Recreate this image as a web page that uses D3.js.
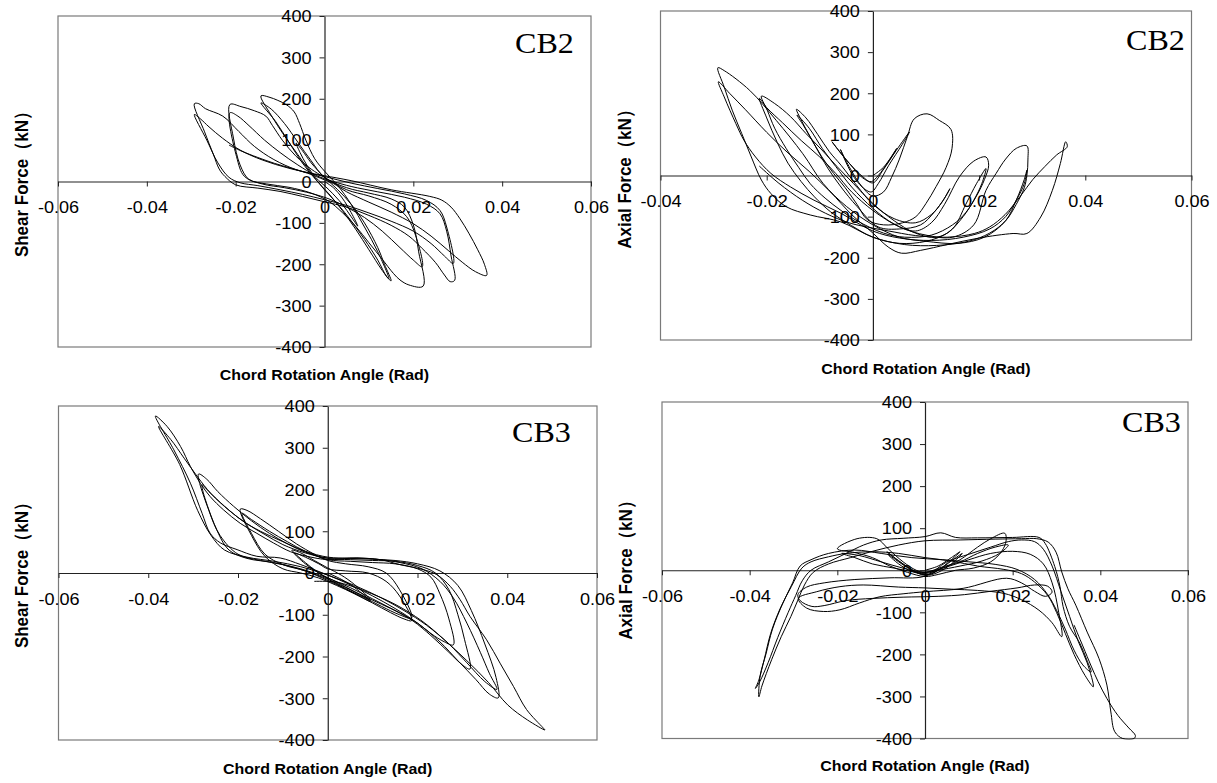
<!DOCTYPE html>
<html><head><meta charset="utf-8">
<script src="https://cdn.jsdelivr.net/npm/d3@7"></script>
<style>body{margin:0;background:#fff}svg{display:block}</style>
</head><body>
<svg id="c" width="1217" height="783"></svg>
<script>
const xTicksWide = [-0.06,-0.04,-0.02,0,0.02,0.04,0.06];
const xTicksNarrow = [-0.04,-0.02,0,0.02,0.04,0.06];
const yTicks = [-400,-300,-200,-100,0,100,200,300,400];
const specimenLabels = ["CB2","CB2","CB3","CB3"];
const xTitle = "Chord Rotation Angle (Rad)";
const yTitles = ["Shear Force（kN）","Axial Force（kN）","Shear Force（kN）","Axial Force（kN）"];

// CB2 shear force vs chord rotation [rad, kN]
const cb2Shear = [
[0,0],[0.002,-15],[0.004,-40],[0.006,-75],[0.0075,-108],
[0.006,-85],[0.004,-55],[0.001,-20],[-0.002,10],[-0.004,40],[-0.0055,70],[-0.0064,93],
[-0.005,75],[-0.003,45],[0,10],
[0.003,-20],[0.006,-55],[0.009,-100],[0.012,-160],[0.0135,-200],[0.015,-240],
[0.014,-230],[0.012,-190],[0.009,-140],[0.006,-95],[0.003,-55],[0,-20],[-0.003,20],[-0.006,65],[-0.009,110],[-0.012,160],[-0.0143,207],
[-0.0125,204],[-0.0105,196],[-0.0085,185],[-0.0068,168],[-0.0056,140],[-0.0042,100],[-0.0022,55],[0,25],[0.003,-10],
[0.006,-55],[0.009,-110],[0.012,-170],[0.0145,-235],
[0.013,-215],[0.01,-165],[0.007,-115],[0.004,-70],[0.001,-30],[-0.002,5],[-0.005,45],[-0.008,95],[-0.011,145],[-0.0143,190],
[-0.012,175],[-0.009,140],[-0.006,95],[-0.003,50],[0,10],
[0.005,-15],[0.01,-28],[0.015,-42],[0.018,-62],[0.02,-105],[0.0212,-170],[0.0222,-253],
[0.019,-250],[0.017,-238],[0.0155,-222],[0.013,-188],[0.01,-148],[0.007,-108],[0.004,-75],[0.001,-48],[-0.003,-28],[-0.008,-14],[-0.013,-6],[-0.017,5],[-0.019,40],[-0.0205,105],[-0.0213,186],
[-0.0188,181],[-0.0158,171],[-0.0132,158],[-0.0117,135],[-0.0095,100],[-0.0065,62],[-0.003,30],[0,10],
[0.005,-20],[0.01,-35],[0.015,-55],[0.0185,-85],[0.0205,-130],[0.022,-206],
[0.02,-190],[0.017,-160],[0.013,-120],[0.009,-87],[0.005,-62],[0.001,-42],[-0.004,-26],[-0.009,-15],[-0.014,-6],[-0.018,12],[-0.0198,60],[-0.0213,166],
[-0.0195,158],[-0.017,135],[-0.0135,100],[-0.01,70],[-0.006,40],[-0.002,15],[0.002,0],
[0.006,-12],[0.012,-25],[0.018,-38],[0.023,-55],[0.026,-78],[0.0275,-120],[0.0285,-180],[0.0293,-239],
[0.0283,-242],[0.027,-226],[0.025,-196],[0.022,-162],[0.019,-132],[0.015,-106],[0.01,-82],[0.005,-62],[0,-49],[-0.005,-36],[-0.01,-24],[-0.015,-16],[-0.02,-8],[-0.0224,12],[-0.0237,30],[-0.025,65],[-0.027,120],[-0.0293,188],
[-0.0283,188],[-0.0268,176],[-0.0229,158],[-0.0193,121],[-0.0158,85],[-0.0114,53],[-0.0062,28],[0,12],
[0.006,-4],[0.012,-17],[0.018,-30],[0.023,-46],[0.026,-70],[0.0275,-110],[0.029,-198],
[0.027,-180],[0.024,-150],[0.02,-120],[0.015,-96],[0.01,-76],[0.005,-58],[0,-44],[-0.005,-31],[-0.01,-20],[-0.015,-10],[-0.019,-3],[-0.0215,10],[-0.024,45],[-0.0265,100],[-0.0293,162],
[-0.028,152],[-0.026,132],[-0.023,105],[-0.019,76],[-0.014,52],[-0.008,32],[-0.003,20],[0,14],
[0.006,2],[0.015,-20],[0.0237,-36],[0.0264,-45],[0.0285,-62],[0.0305,-90],[0.0325,-125],[0.0345,-165],[0.036,-200],[0.0365,-227],
[0.034,-218],[0.031,-195],[0.028,-168],[0.024,-132],[0.02,-102],[0.015,-74],[0.01,-50],[0.005,-25],[0.002,-5],[0,4],[-0.0038,20],[-0.0075,32],[-0.0113,44],[-0.015,58],[-0.0188,74],[-0.0215,88]
];

// CB2 axial force vs chord rotation [rad, kN]
const cb2Axial = [
[0,0],[0.002,20],[0.0045,66],[0.003,35],[0.001,0],[-0.0003,-15],[-0.002,-5],[-0.0044,29],[-0.0061,55],[-0.0077,82],
[-0.0065,62],[-0.0044,29],[-0.0019,-3],[0,-18],[0.0019,13],[0.0044,61],[0.0069,106],
[0.0055,75],[0.003,25],[0.001,-20],[-0.0003,-40],[-0.002,-28],[-0.004,5],[-0.0061,63],
[-0.0045,22],[-0.002,-28],[0,-50],
[0.002,-40],[0.0035,-5],[0.005,40],[0.0065,95],[0.0078,138],[0.0102,150],[0.0125,134],[0.0147,112],[0.0149,66],[0.0138,20],[0.0119,-27],[0.01,-68],[0.0081,-100],[0.0056,-115],[0.002,-120],[-0.001,-108],
[-0.003,-70],[-0.0052,-30],[-0.0074,5],[-0.0096,45],[-0.0118,94],[-0.0135,135],[-0.0144,161],
[-0.0126,140],[-0.0104,100],[-0.0082,58],[-0.006,25],[-0.003,-25],[0,-70],[0.004,-105],
[0.008,-115],[0.011,-95],[0.013,-65],[0.0145,-32],[0.0135,-55],[0.0115,-90],[0.009,-120],[0.005,-130],[0.001,-125],
[-0.003,-75],[-0.006,-28],[-0.0085,18],[-0.011,75],[-0.013,120],[-0.0143,147],[-0.012,115],[-0.0095,65],[-0.007,22],[-0.004,-28],[0,-80],[0.004,-118],
[0.008,-135],[0.011,-115],[0.0135,-70],[0.0163,-3],[0.019,35],[0.0213,45],[0.0218,25],[0.021,-10],[0.0195,-50],[0.0175,-90],[0.015,-120],[0.011,-145],[0.006,-150],[0.002,-140],
[-0.003,-110],[-0.006,-85],[-0.009,-55],[-0.0118,-20],[-0.014,20],[-0.0163,65],[-0.0185,115],[-0.0199,159],[-0.021,193],
[-0.0185,175],[-0.0155,143],[-0.0126,102],[-0.0096,62],[-0.0067,21],[-0.0037,-19],[0,-68],[0.004,-110],[0.008,-140],
[0.012,-150],[0.015,-130],[0.0175,-70],[0.0195,-20],[0.0213,17],[0.0205,-20],[0.019,-60],[0.017,-100],[0.014,-140],[0.01,-160],[0.005,-165],[0,-150],
[-0.004,-122],[-0.008,-88],[-0.011,-52],[-0.0135,-15],[-0.016,30],[-0.018,80],[-0.02,140],[-0.0214,188],
[-0.02,165],[-0.017,128],[-0.0135,85],[-0.01,45],[-0.007,5],[-0.004,-40],[0,-85],[0.005,-125],
[0.01,-145],[0.015,-150],[0.019,-120],[0.0213,-36],[0.0232,5],[0.025,40],[0.027,66],[0.029,72],[0.0292,40],[0.029,0],[0.0285,-30],[0.027,-70],[0.025,-110],[0.022,-140],[0.018,-160],[0.012,-170],[0.006,-168],[0,-150],
[-0.006,-113],[-0.0118,-96],[-0.0163,-76],[-0.0192,-44],[-0.021,-11],[-0.0229,45],[-0.0247,102],[-0.0265,159],[-0.028,215],[-0.0292,262],
[-0.028,255],[-0.0232,207],[-0.0182,134],[-0.0132,53],[-0.0094,-19],[-0.005,-75],[0,-120],[0.005,-150],
[0.01,-160],[0.016,-165],[0.021,-150],[0.025,-110],[0.027,-60],[0.0285,-10],[0.029,13],[0.0285,-20],[0.027,-60],[0.025,-100],[0.022,-130],[0.017,-150],[0.011,-158],[0.005,-152],[0,-135],
[-0.006,-92],[-0.0111,-60],[-0.0155,-28],[-0.0192,5],[-0.0221,45],[-0.0243,86],[-0.0258,126],[-0.028,191],[-0.0291,228],
[-0.027,200],[-0.024,160],[-0.02,105],[-0.016,55],[-0.012,10],[-0.008,-40],[-0.004,-95],[0,-140],[0.003,-175],[0.0054,-189],[0.009,-182],[0.014,-168],[0.02,-152],[0.0264,-141],[0.029,-141],[0.0316,-101],[0.0338,-36],[0.0353,29],[0.0363,82],[0.0366,70],
[0.0346,50],[0.0324,22],[0.0301,-10],[0.0279,-48],[0.0249,-95],[0.022,-125],[0.0191,-141],[0.014,-150],[0.008,-146],[0.003,-135],[0,-128],[-0.0045,-115],[-0.0089,-92],[-0.0133,-60],[-0.0177,-19],[-0.0214,23]
];

// CB3 shear force vs chord rotation [rad, kN]
const cb3Shear = [
[0,0],[0.003,-15],[0.006,-35],[0.0095,-68],[0.007,-55],[0.004,-38],[0.001,-20],[-0.002,0],[-0.005,25],[-0.008,55],[-0.006,48],[-0.003,30],[0,12],
[0.003,-5],[0.006,-28],[0.0095,-64],[0.006,-45],[0.002,-22],[-0.002,0],[-0.005,22],[-0.0075,48],[-0.005,38],[-0.002,22],[0,10],
[0.004,5],[0.009,0],[0.013,-20],[0.016,-55],[0.0187,-114],
[0.017,-110],[0.014,-95],[0.01,-72],[0.006,-50],[0.002,-30],[-0.002,-12],[-0.006,0],[-0.01,10],[-0.014,40],[-0.017,90],[-0.0195,153],
[-0.018,150],[-0.015,130],[-0.011,100],[-0.007,70],[-0.003,45],[0,30],
[0.004,22],[0.009,15],[0.013,0],[0.016,-40],[0.0187,-108],[0.016,-100],[0.012,-80],[0.008,-58],[0.004,-38],[0,-18],[-0.005,5],[-0.01,20],[-0.014,45],[-0.017,95],[-0.0191,143],
[-0.017,128],[-0.013,100],[-0.009,75],[-0.005,52],[0,32],
[0.005,28],[0.01,25],[0.015,22],[0.02,10],[0.023,-10],[0.025,-50],[0.027,-110],[0.028,-172],
[0.026,-165],[0.023,-145],[0.02,-120],[0.016,-95],[0.012,-75],[0.008,-55],[0.004,-35],[0,-15],[-0.005,5],[-0.01,20],[-0.015,30],[-0.02,45],[-0.024,90],[-0.0265,150],[-0.0288,237],
[-0.027,225],[-0.0245,195],[-0.021,160],[-0.017,125],[-0.013,95],[-0.009,70],[-0.005,50],[0,35],
[0.005,32],[0.01,30],[0.015,28],[0.02,18],[0.024,0],[0.027,-40],[0.029,-100],[0.0305,-160],[0.0317,-230],
[0.03,-220],[0.027,-190],[0.023,-150],[0.019,-115],[0.015,-90],[0.01,-62],[0.005,-35],[0,-12],[-0.006,10],[-0.012,25],[-0.018,35],[-0.022,55],[-0.025,110],[-0.028,211],
[-0.0265,195],[-0.023,160],[-0.019,125],[-0.015,100],[-0.01,75],[-0.005,52],[0,38],
[0.005,35],[0.01,33],[0.015,30],[0.02,22],[0.025,5],[0.029,-30],[0.032,-90],[0.035,-170],[0.0375,-250],[0.038,-299],
[0.036,-290],[0.033,-255],[0.029,-210],[0.025,-165],[0.02,-120],[0.015,-85],[0.01,-55],[0.005,-28],[0,-5],[-0.006,20],[-0.0106,36],[-0.0158,40],[-0.0202,56],[-0.0239,72],[-0.0262,95],[-0.028,143],[-0.0306,215],[-0.0343,295],[-0.0384,376],
[-0.0358,351],[-0.0328,303],[-0.0306,255],[-0.0284,215],[-0.0262,183],[-0.0232,151],[-0.0195,119],[-0.0158,95],[-0.0121,72],[-0.0083,51],[-0.0046,40],[0,32],
[0.0065,36],[0.0117,32],[0.0161,25],[0.021,10],[0.025,-20],[0.028,-60],[0.031,-120],[0.034,-190],[0.036,-240],[0.0377,-279],
[0.035,-260],[0.031,-215],[0.027,-170],[0.022,-125],[0.017,-90],[0.012,-60],[0.006,-30],[0,-5],[-0.006,15],[-0.012,28],[-0.018,38],[-0.023,55],[-0.026,90],[-0.029,150],[-0.033,260],[-0.0377,351],
[-0.035,320],[-0.032,275],[-0.029,230],[-0.026,190],[-0.022,150],[-0.018,118],[-0.014,92],[-0.01,68],[-0.005,48],[0,36],
[0.0065,36],[0.0117,32],[0.0161,20],[0.0213,8],[0.0243,-4],[0.0273,-32],[0.0295,-64],[0.0317,-104],[0.0354,-160],[0.0384,-216],[0.0414,-272],[0.0443,-327],[0.048,-371],[0.0484,-376],
[0.0445,-352],[0.0401,-316],[0.0358,-262],[0.031,-210],[0.026,-160],[0.021,-115],[0.015,-75],[0.008,-42],[0.002,-22],[-0.003,-20]
];

// CB3 axial force vs chord rotation [rad, kN]
const cb3Axial = [
[0,0],[0.003,10],[0.006,30],[0.008,44],[0.006,25],[0.003,0],[0.001,-10],[-0.002,-5],[-0.005,15],[-0.0087,44],[-0.006,22],[-0.003,2],[0,-11],[0.003,0],[0.006,22],[0.0085,40],[0.006,15],[0.003,-5],[0,-12],[-0.003,0],[-0.006,20],[-0.0085,38],[-0.006,15],[-0.003,-3],[0,-8],
[0.004,5],[0.008,25],[0.012,55],[0.015,75],[0.0182,88],[0.0185,70],[0.0175,45],[0.015,20],[0.011,5],[0.007,0],[0.003,-10],[0,-15],
[-0.004,-5],[-0.008,10],[-0.012,30],[-0.016,42],[-0.02,51],[-0.0155,75],[-0.011,75],[-0.0084,51],[-0.005,20],[-0.002,0],[0,-5],
[0.004,8],[0.008,20],[0.012,40],[0.016,55],[0.019,60],[0.017,40],[0.013,22],[0.008,10],[0.003,0],[0,-5],
[-0.005,5],[-0.01,20],[-0.015,35],[-0.019,40],[-0.016,30],[-0.012,15],[-0.007,5],[-0.003,-3],[0,-5],
[0.005,8],[0.01,25],[0.015,40],[0.02,45],[0.024,38],[0.027,15],[0.029,-30],[0.0305,-100],[0.0312,-158],
[0.029,-125],[0.026,-95],[0.022,-70],[0.018,-55],[0.012,-48],[0.006,-45],[0,-42],[-0.006,-40],[-0.0141,-35],[-0.0194,-39],[-0.0247,-51],[-0.0289,-67],
[-0.027,-90],[-0.0232,-98],[-0.0194,-94],[-0.015,-78],[-0.0103,-63],[-0.005,-56],[0,-51],[0.0087,-43],[0.0186,-19],
[0.022,-30],[0.025,-50],[0.0275,-62],[0.029,-52],[0.028,-38],[0.025,-35],[0.021,-42],[0.015,-50],[0.009,-58],[0.003,-62],[-0.005,-64],[-0.012,-67],[-0.018,-72],[-0.023,-84],[-0.0258,-86],[-0.0285,-72],[-0.029,-58],[-0.027,-40],[-0.023,-30],[-0.016,-22],[-0.008,-18],[0,-14],
[0.005,20],[0.01,38],[0.015,55],[0.019,68],[0.022,72],[0.025,68],[0.027,50],[0.029,10],[0.031,-50],[0.033,-110],[0.035,-170],[0.037,-220],[0.0384,-277],
[0.0365,-250],[0.034,-200],[0.032,-150],[0.03,-100],[0.028,-60],[0.025,-28],[0.022,-8],[0.018,2],[0.012,10],[0.006,22],[0,30],[-0.006,40],[-0.012,44],[-0.018,40],[-0.022,32],[-0.026,20],[-0.0281,5],
[-0.0305,-39],[-0.033,-90],[-0.0352,-150],[-0.0367,-213],[-0.0379,-261],[-0.0387,-281],
[-0.0377,-265],[-0.0358,-220],[-0.0336,-160],[-0.0312,-100],[-0.0295,-60],[-0.028,-25],[-0.026,0],[-0.022,20],[-0.018,40],[-0.014,60],[-0.01,72],[-0.005,76],[0,80],[0.0036,89],[0.007,78],[0.012,77],[0.02,78],[0.026,78],
[0.0274,64],[0.0296,9],[0.0308,-39],[0.0315,-86],[0.033,-134],[0.0353,-173],[0.0369,-213],[0.0379,-242],
[0.036,-225],[0.034,-190],[0.032,-140],[0.03,-95],[0.028,-58],[0.025,-22],[0.021,2],[0.016,14],[0.01,20],[0.004,25],[-0.003,30],[-0.01,40],[-0.016,48],[-0.022,40],[-0.026,25],[-0.0285,10],
[-0.0302,-30],[-0.0325,-80],[-0.0348,-140],[-0.0363,-200],[-0.0376,-250],[-0.0379,-301],
[-0.0372,-275],[-0.035,-213],[-0.0328,-158],[-0.0306,-110],[-0.029,-71],[-0.0275,-35],[-0.0255,-5],[-0.022,15],[-0.017,30],[-0.012,45],[-0.006,60],[0,70],[0.008,72],[0.016,74],[0.022,75],[0.0255,75],
[0.0281,67],[0.0299,43],[0.0312,-4],[0.0326,-44],[0.0344,-83],[0.037,-147],[0.0397,-210],[0.0415,-273],[0.0424,-337],[0.0433,-384],[0.0451,-400],[0.0477,-400],[0.048,-393],
[0.0465,-375],[0.044,-345],[0.0415,-305],[0.0395,-265],[0.038,-230],[0.036,-180],[0.034,-130]
];

const panels = [
  {data: cb2Shear, xDomain: [-0.06,0.06], xTicks: xTicksWide, left: 58, right: 591, top: 16, bottom: 347,
   yTitleX: 22, yTitleY: 180, xTitleY: 380, labelX: 515, labelY: 53},
  {data: cb2Axial, xDomain: [-0.04,0.06], xTicks: xTicksNarrow, left: 660.5, right: 1191.5, top: 11, bottom: 340,
   yTitleX: 625, yTitleY: 175, xTitleY: 374, labelX: 1126, labelY: 50},
  {data: cb3Shear, xDomain: [-0.06,0.06], xTicks: xTicksWide, left: 58.5, right: 597, top: 406, bottom: 740,
   yTitleX: 22, yTitleY: 571, xTitleY: 774, labelX: 512, labelY: 442},
  {data: cb3Axial, xDomain: [-0.06,0.06], xTicks: xTicksWide, left: 662, right: 1188, top: 402, bottom: 738.5,
   yTitleX: 626, yTitleY: 566, xTitleY: 771, labelX: 1122, labelY: 432}
];

const svg = d3.select("#c");
const sans = "'Liberation Sans', Arial, Helvetica, sans-serif";
const serif = "'Liberation Serif', 'Times New Roman', serif";
const fmtX = d => d === 0 ? "0" : String(d);

panels.forEach((p, i) => {
  const x = d3.scaleLinear().domain(p.xDomain).range([p.left, p.right]);
  const y = d3.scaleLinear().domain([-400, 400]).range([p.bottom, p.top]);
  const g = svg.append("g");

  g.append("rect").attr("x", p.left).attr("y", p.top)
    .attr("width", p.right - p.left).attr("height", p.bottom - p.top)
    .attr("fill", "none").attr("stroke", "#7a7a7a").attr("stroke-width", 1.2);

  const xa = g.append("g").attr("transform", `translate(0,${y(0)})`)
    .call(d3.axisBottom(x).tickValues(p.xTicks).tickSize(5).tickSizeOuter(0).tickFormat(fmtX));
  xa.attr("font-size", 16).attr("font-family", sans);
  xa.select(".domain").attr("stroke", "#222").attr("stroke-width", 1.2);
  xa.selectAll(".tick line").attr("stroke", "#222");
  xa.selectAll(".tick text").attr("y", 32).attr("dy", null).attr("fill", "#000")
    .attr("transform", "scale(1.13,1)");

  const ya = g.append("g").attr("transform", `translate(${x(0)},0)`)
    .call(d3.axisLeft(y).tickValues(yTicks).tickSize(5).tickSizeOuter(0).tickFormat(d => String(d)));
  ya.attr("font-size", 16).attr("font-family", sans);
  ya.select(".domain").attr("stroke", "#222").attr("stroke-width", 1.2);
  ya.selectAll(".tick line").attr("stroke", "#222");
  ya.selectAll(".tick text").attr("x", -11.5).attr("dy", "0.36em").attr("fill", "#000")
    .attr("transform", "scale(1.13,1)");

  const clipId = "clip" + i;
  svg.append("clipPath").attr("id", clipId).append("rect")
    .attr("x", p.left).attr("y", p.top - 1).attr("width", p.right - p.left).attr("height", p.bottom - p.top + 2);

  const line = d3.line().x(d => x(d[0])).y(d => y(d[1])).curve(d3.curveCatmullRom.alpha(0.5));
  g.append("path").attr("d", line(p.data)).attr("clip-path", `url(#${clipId})`)
    .attr("fill", "none").attr("stroke", "#000").attr("stroke-width", 1).attr("stroke-linejoin", "round");

  g.append("text").attr("transform", `translate(${p.labelX},${p.labelY}) scale(1.07,1)`)
    .attr("font-family", serif).attr("font-size", 30).attr("fill", "#000").text(specimenLabels[i]);

  g.append("text").attr("transform", `translate(${(p.left + p.right) / 2},${p.xTitleY}) scale(1.1,1)`)
    .attr("text-anchor", "middle").attr("font-family", sans).attr("font-weight", "bold")
    .attr("font-size", 14.5).attr("fill", "#000").text(xTitle);

  g.append("text").attr("transform", `translate(${p.yTitleX},${p.yTitleY}) rotate(-90) scale(1,1.1)`)
    .attr("text-anchor", "middle").attr("dominant-baseline", "central")
    .attr("font-family", sans).attr("font-weight", "bold").attr("font-size", 17)
    .attr("fill", "#000").text(yTitles[i]);
});
</script>
</body></html>
